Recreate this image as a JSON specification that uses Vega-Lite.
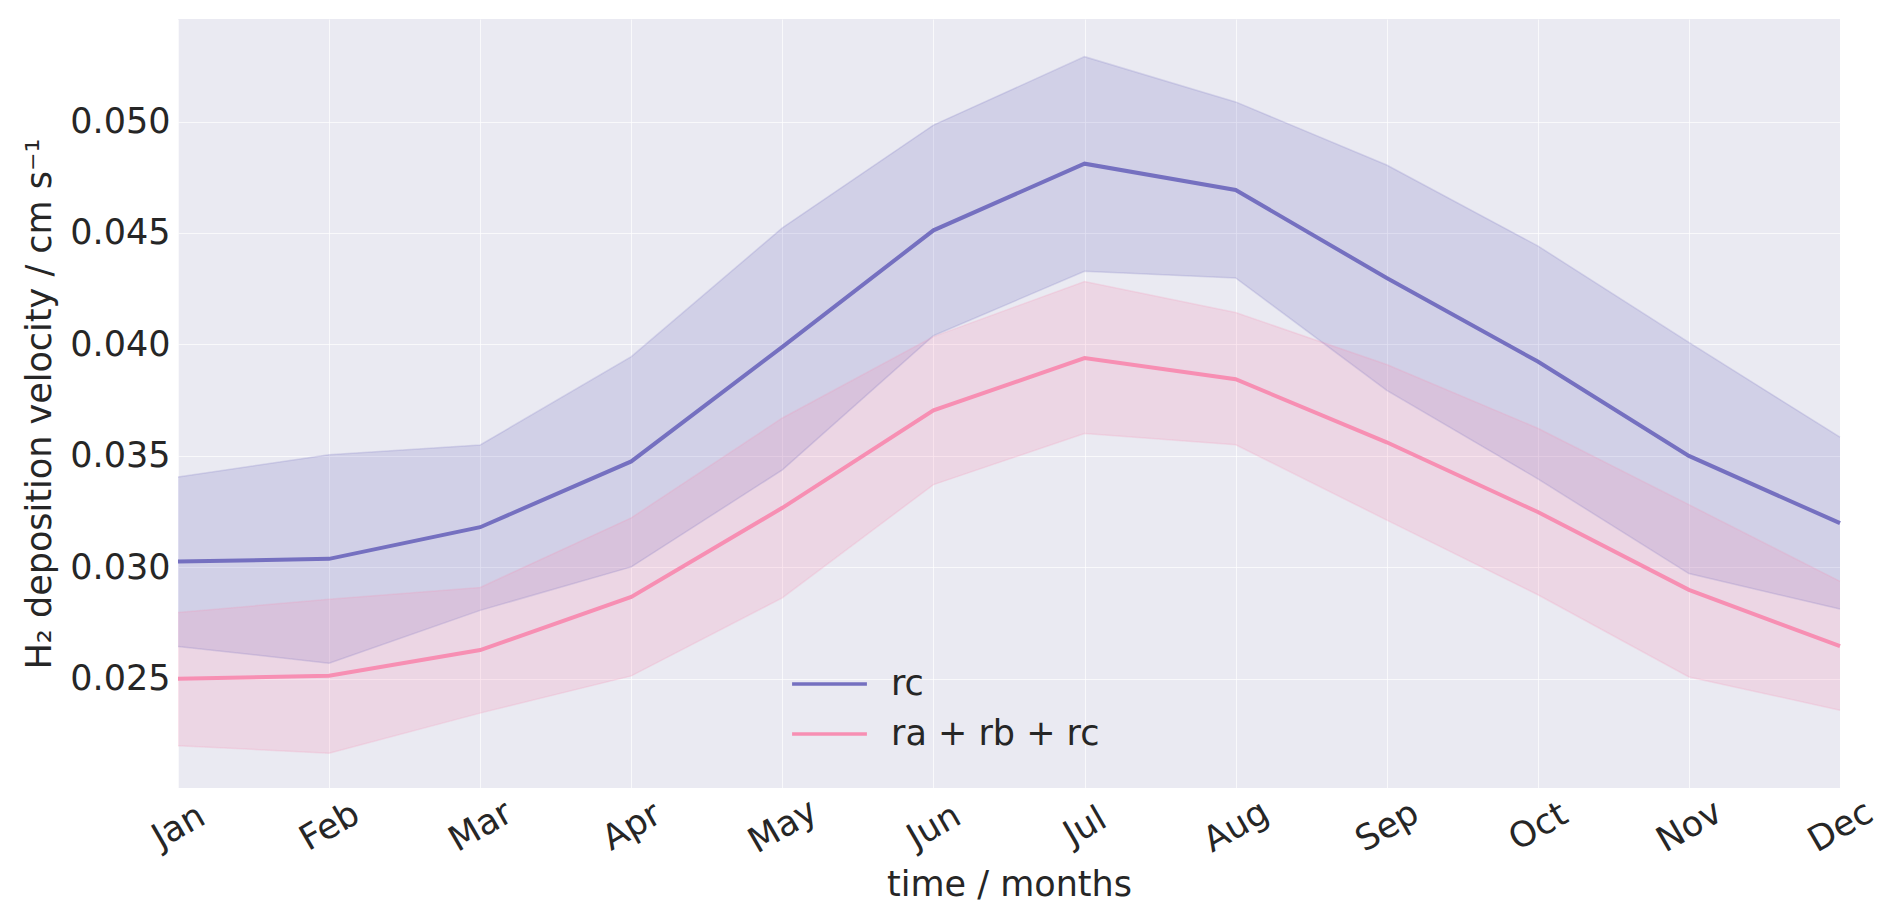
{
  "$schema": "https://vega.github.io/schema/vega-lite/v6.json",
  "width": 1662,
  "height": 769,
  "autosize": "none",
  "padding": {"left": 178, "top": 19, "right": 52, "bottom": 133},
  "background": "white",
  "data": {
    "values": [
      {"month": "Jan", "series": "rc", "mean": 0.03026, "lo": 0.02645, "hi": 0.03405},
      {"month": "Feb", "series": "rc", "mean": 0.03038, "lo": 0.0257, "hi": 0.03505},
      {"month": "Mar", "series": "rc", "mean": 0.0318, "lo": 0.02807, "hi": 0.03549},
      {"month": "Apr", "series": "rc", "mean": 0.03475, "lo": 0.03002, "hi": 0.03945},
      {"month": "May", "series": "rc", "mean": 0.03989, "lo": 0.03437, "hi": 0.04523},
      {"month": "Jun", "series": "rc", "mean": 0.04512, "lo": 0.04039, "hi": 0.04984},
      {"month": "Jul", "series": "rc", "mean": 0.04811, "lo": 0.04328, "hi": 0.05291},
      {"month": "Aug", "series": "rc", "mean": 0.04693, "lo": 0.04298, "hi": 0.05088},
      {"month": "Sep", "series": "rc", "mean": 0.04298, "lo": 0.03794, "hi": 0.04805},
      {"month": "Oct", "series": "rc", "mean": 0.03923, "lo": 0.03397, "hi": 0.04442},
      {"month": "Nov", "series": "rc", "mean": 0.035, "lo": 0.02972, "hi": 0.04009},
      {"month": "Dec", "series": "rc", "mean": 0.03198, "lo": 0.02813, "hi": 0.03584},
      {"month": "Jan", "series": "ra + rb + rc", "mean": 0.025, "lo": 0.022, "hi": 0.02797},
      {"month": "Feb", "series": "ra + rb + rc", "mean": 0.02514, "lo": 0.02166, "hi": 0.02857},
      {"month": "Mar", "series": "ra + rb + rc", "mean": 0.02629, "lo": 0.02346, "hi": 0.0291},
      {"month": "Apr", "series": "ra + rb + rc", "mean": 0.02867, "lo": 0.02513, "hi": 0.03222},
      {"month": "May", "series": "ra + rb + rc", "mean": 0.03267, "lo": 0.02863, "hi": 0.0367},
      {"month": "Jun", "series": "ra + rb + rc", "mean": 0.03704, "lo": 0.03371, "hi": 0.04035},
      {"month": "Jul", "series": "ra + rb + rc", "mean": 0.03939, "lo": 0.036, "hi": 0.04282},
      {"month": "Aug", "series": "ra + rb + rc", "mean": 0.03844, "lo": 0.0355, "hi": 0.04143},
      {"month": "Sep", "series": "ra + rb + rc", "mean": 0.03561, "lo": 0.03212, "hi": 0.0391},
      {"month": "Oct", "series": "ra + rb + rc", "mean": 0.03248, "lo": 0.02877, "hi": 0.03624},
      {"month": "Nov", "series": "ra + rb + rc", "mean": 0.02899, "lo": 0.02508, "hi": 0.03281},
      {"month": "Dec", "series": "ra + rb + rc", "mean": 0.02646, "lo": 0.02359, "hi": 0.02937}
    ]
  },
  "encoding": {
    "x": {
      "field": "month",
      "type": "ordinal",
      "sort": ["Jan", "Feb", "Mar", "Apr", "May", "Jun", "Jul", "Aug", "Sep", "Oct", "Nov", "Dec"],
      "scale": {"type": "point", "padding": 0},
      "axis": {
        "title": "time / months",
        "labelAngle": -30,
        "labelAlign": "center",
        "labelBaseline": "middle",
        "labelPadding": 38,
        "titlePadding": 8
      }
    },
    "color": {
      "field": "series",
      "type": "nominal",
      "scale": {"domain": ["rc", "ra + rb + rc"], "range": ["#7570C0", "#F78FB3"]},
      "legend": {
        "title": null,
        "orient": "none",
        "legendX": 612,
        "legendY": 640,
        "symbolType": "stroke",
        "symbolSize": 5600,
        "symbolStrokeWidth": 3.5,
        "symbolOpacity": 1,
        "labelFontSize": 35,
        "labelOffset": 22,
        "labelLimit": 0,
        "clipHeight": 50,
        "rowPadding": 0,
        "labelColor": "#262626",
        "labelFont": "DejaVu Sans"
      }
    }
  },
  "layer": [
    {
      "mark": {"type": "area", "fillOpacity": 0.21},
      "encoding": {
        "y": {"field": "lo", "type": "quantitative"},
        "y2": {"field": "hi"}
      }
    },
    {
      "mark": {"type": "line", "strokeWidth": 1.5, "strokeOpacity": 0.2},
      "encoding": {"y": {"field": "lo", "type": "quantitative"}}
    },
    {
      "mark": {"type": "line", "strokeWidth": 1.5, "strokeOpacity": 0.2},
      "encoding": {"y": {"field": "hi", "type": "quantitative"}}
    },
    {
      "mark": {"type": "line", "strokeWidth": 4},
      "encoding": {
        "y": {
          "field": "mean",
          "type": "quantitative",
          "scale": {"domain": [0.0201, 0.0546], "nice": false, "zero": false},
          "axis": {
            "title": "H₂ deposition velocity / cm s⁻¹",
            "values": [0.025, 0.03, 0.035, 0.04, 0.045, 0.05],
            "format": ".3f",
            "labelPadding": 8,
            "titlePadding": 12
          }
        }
      }
    }
  ],
  "config": {
    "font": "DejaVu Sans",
    "view": {"fill": "#EAEAF2", "stroke": null},
    "axis": {
      "domain": false,
      "ticks": false,
      "grid": true,
      "gridColor": "white",
      "gridWidth": 1,
      "gridOpacity": 0.7,
      "labelFontSize": 35,
      "labelColor": "#262626",
      "titleFontSize": 35,
      "titleFontWeight": "normal",
      "titleColor": "#262626",
      "labelFont": "DejaVu Sans",
      "titleFont": "DejaVu Sans"
    }
  }
}
